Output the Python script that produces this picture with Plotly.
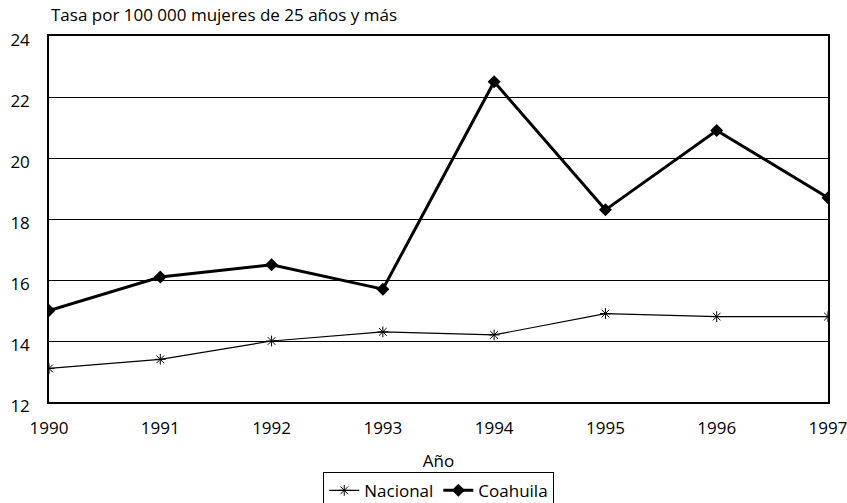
import plotly.graph_objects as go

years = [1990, 1991, 1992, 1993, 1994, 1995, 1996, 1997]
nacional = [13.1, 13.4, 14.0, 14.3, 14.2, 14.9, 14.8, 14.8]
coahuila = [15.0, 16.1, 16.5, 15.7, 22.5, 18.3, 20.9, 18.7]
y_ticks = [12, 14, 16, 18, 20, 22, 24]

FONT = "Open Sans"
FS = 17

fig = go.Figure()
fig.add_trace(go.Scatter(
    x=years, y=nacional, name="Nacional", mode="lines+markers",
    line=dict(color="black", width=1.2),
    marker=dict(symbol="asterisk-open", size=9, color="black",
                line=dict(color="black", width=1)),
))
fig.add_trace(go.Scatter(
    x=years, y=coahuila, name="Coahuila", mode="lines+markers",
    line=dict(color="black", width=3),
    marker=dict(symbol="diamond", size=10, color="black"),
))

fig.update_layout(
    width=847, height=503,
    margin=dict(l=49, r=19, t=36, b=101),
    paper_bgcolor="white", plot_bgcolor="white",
    font=dict(family=FONT, size=FS, color="black"),
    showlegend=True,
    legend=dict(
        orientation="h", xref="container", yref="container",
        x=0.518, xanchor="center", y=0.062, yanchor="top",
        bordercolor="black", borderwidth=1, font=dict(size=FS),
        itemwidth=30, tracegroupgap=0,
    ),
    xaxis=dict(
        range=[1990, 1997], tickvals=years, ticks="", showgrid=False,
        showline=True, linecolor="black", linewidth=1.5, mirror=True,
        zeroline=False, tickfont=dict(size=FS), ticklabelstandoff=10,
        ticklabeloverflow="allow", automargin=False,
        title=dict(text="Año", font=dict(size=FS), standoff=19),
    ),
    yaxis=dict(
        range=[12, 24], tickvals=y_ticks, ticks="", showgrid=True,
        gridcolor="black", gridwidth=1,
        showline=True, linecolor="black", linewidth=1.5, mirror=True,
        zeroline=False, tickfont=dict(size=FS), ticklabelstandoff=14,
        ticklabelshift=4, automargin=False,
    ),
    annotations=[dict(
        text="Tasa por 100 000 mujeres de 25 años y más",
        xref="paper", yref="paper", x=0, y=1.0, xanchor="left",
        yanchor="middle", yshift=22, showarrow=False, font=dict(size=FS),
    )],
)

fig.write_html("out.html")
